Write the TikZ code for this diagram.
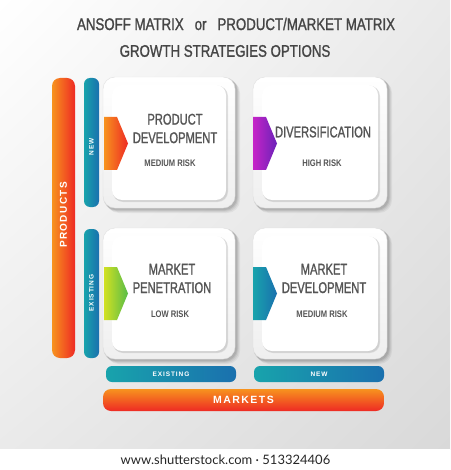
\documentclass[tikz,border=0pt]{standalone}
\usepackage{fontspec}
\setmainfont{Liberation Sans}
\newfontfamily\condfont[FakeStretch=0.72,FakeBold=1.2]{Liberation Sans}
\newfontfamily\titlefont[FakeStretch=0.79,FakeBold=1.2]{Liberation Sans}
\newfontfamily\riskfont[FakeStretch=0.8]{Liberation Sans}
\newfontfamily\barfont[LetterSpace=14]{Liberation Sans}
\newfontfamily\footfont{Lato}
\usetikzlibrary{shapes.geometric,calc,shadings}
\definecolor{titlegray}{HTML}{454545}
\definecolor{textgray}{HTML}{555555}
\definecolor{orA}{HTML}{F7931E}
\definecolor{orB}{HTML}{EE2A24}
\definecolor{blA}{HTML}{18A3AC}
\definecolor{blB}{HTML}{1A70AE}
\definecolor{puA}{HTML}{C624C8}
\definecolor{puB}{HTML}{6A22B8}
\definecolor{grA}{HTML}{D2E122}
\definecolor{grB}{HTML}{58BC48}
\definecolor{bgA}{HTML}{FFFFFF}
\definecolor{bgB}{HTML}{EAEAEA}
\definecolor{bgC}{HTML}{D9D9D9}
\definecolor{frame}{HTML}{EFEFEF}
\tikzset{
  bartext/.style={inner sep=0pt, text=white},
  titletext/.style={font=\titlefont\fontsize{16.8}{18}\selectfont, text=titlegray, inner sep=0pt},
  boxtitle/.style={font=\condfont\fontsize{15.5}{17}\selectfont, text=textgray, align=center, inner sep=0pt},
  risk/.style={font=\riskfont\bfseries\fontsize{9.5}{11}\selectfont, text=textgray, inner sep=0pt},
}
\newcommand{\quadbox}[5]{%
  % #1 name, #2 x1, #3 y1, #4 x2, #5 y2 (outer)
  \foreach \s/\o in {4/0.05,3/0.06,2/0.07,1.2/0.08}{
    \fill[black, opacity=\o, rounded corners=13pt] (#2+\s-1,#3+\s-1) rectangle (#4+\s+1,#5+\s+1);
  }
  \node[draw=black!12, line width=0.4pt, top color=white, bottom color=frame, rounded corners=12pt,
        minimum width=#4-#2, minimum height=#5-#3, inner sep=0pt] (#1) at ({(#2+#4)/2},{(#3+#5)/2}) {};
  \fill[black, opacity=0.08, rounded corners=10pt] (#2+10,#3+9) rectangle (#4-7,#5-6);
  \fill[black, opacity=0.06, rounded corners=10pt] (#2+9.5,#3+8.5) rectangle (#4-7.5,#5-6.5);
  \node[fill=white, rounded corners=10pt, minimum width=#4-#2-18, minimum height=#5-#3-16, inner sep=0pt]
     (#1in) at ({(#2+#4)/2},{(#3+#5)/2}) {};
}
\begin{document}
\begin{tikzpicture}[x=1pt,y=-1pt]
\useasboundingbox (0,0) rectangle (450,470);
% background
\shade[upper left=bgA, upper right=bgB, lower left=bgB, lower right=bgC] (0,0) rectangle (450,449);
\fill[white] (0,449) rectangle (450,470);

% titles
\node[titletext] (title1) at (236,24)
  {ANSOFF MATRIX\hspace{11pt}or\hspace{11pt}PRODUCT/MARKET MATRIX};
\node[titletext] (title2) at (225,51) {GROWTH STRATEGIES OPTIONS};

% left bars
\shade[left color=orA, right color=orB, rounded corners=8pt] (52,78) rectangle (75,358);
\shade[left color=blA, right color=blB, rounded corners=6pt] (84,78) rectangle (99,207);
\shade[left color=blA, right color=blB, rounded corners=6pt] (84,229) rectangle (99,358);
\node[bartext, rotate=90, font=\barfont\bfseries\fontsize{10}{11}\selectfont] (products) at (63.5,215) {PRODUCTS};
\node[bartext, rotate=90, font=\barfont\bfseries\fontsize{6.5}{7}\selectfont] (pnew) at (91.5,147) {NEW};
\node[bartext, rotate=90, font=\barfont\bfseries\fontsize{6.5}{7}\selectfont] (pexist) at (91.5,293) {EXISTING};

% bottom bars
\shade[left color=blA, right color=blB, rounded corners=6pt] (106,366) rectangle (236,382);
\shade[left color=blA, right color=blB, rounded corners=6pt] (254,366) rectangle (384,382);
\shade[top color=orA, bottom color=orB, rounded corners=8pt] (103,389) rectangle (384,411);
\node[bartext, font=\barfont\bfseries\fontsize{6.5}{7}\selectfont] (mexist) at (171,374) {EXISTING};
\node[bartext, font=\barfont\bfseries\fontsize{6.5}{7}\selectfont] (mnew) at (319,374) {NEW};
\node[bartext, font=\barfont\bfseries\fontsize{10.5}{12}\selectfont] (markets) at (243.5,400) {MARKETS};

% quadrant boxes
\quadbox{pd}{103}{77}{235}{208}
\quadbox{dv}{253}{77}{387}{208}
\quadbox{mp}{103}{228}{235}{359}
\quadbox{md}{253}{228}{387}{359}

% tags
\shade[left color=orA, right color=orB] (104,117) -- (117,117) -- (128,143.5) -- (117,170) -- (104,170) -- cycle;
\shade[left color=puA, right color=puB] (253,117) -- (266,117) -- (277,143.5) -- (266,170) -- (253,170) -- cycle;
\shade[left color=grA, right color=grB] (104,267) -- (117,267) -- (128,293.5) -- (117,320) -- (104,320) -- cycle;
\shade[left color=blA, right color=blB] (253,267) -- (266,267) -- (277,293.5) -- (266,320) -- (253,320) -- cycle;

% texts
\node[boxtitle] (pdt) at (175,128.5) {PRODUCT\\[1.5pt]DEVELOPMENT};
\node[risk] (pdr) at (170,163) {MEDIUM RISK};
\node[boxtitle] (dvt) at (323,132) {DIVERSIFICATION};
\node[risk] (dvr) at (322,163) {HIGH RISK};
\node[boxtitle] (mpt) at (172,278.5) {MARKET\\[1.5pt]PENETRATION};
\node[risk] (mpr) at (170,314) {LOW RISK};
\node[boxtitle] (mdt) at (324,278.5) {MARKET\\[1.5pt]DEVELOPMENT};
\node[risk] (mdr) at (322,314) {MEDIUM RISK};

% footer
\node[font=\footfont\fontsize{13}{14}\selectfont, text=black!85, inner sep=0pt] (footer) at (225.5,460)
  {www.shutterstock.com · 513324406};
\end{tikzpicture}
\end{document}
